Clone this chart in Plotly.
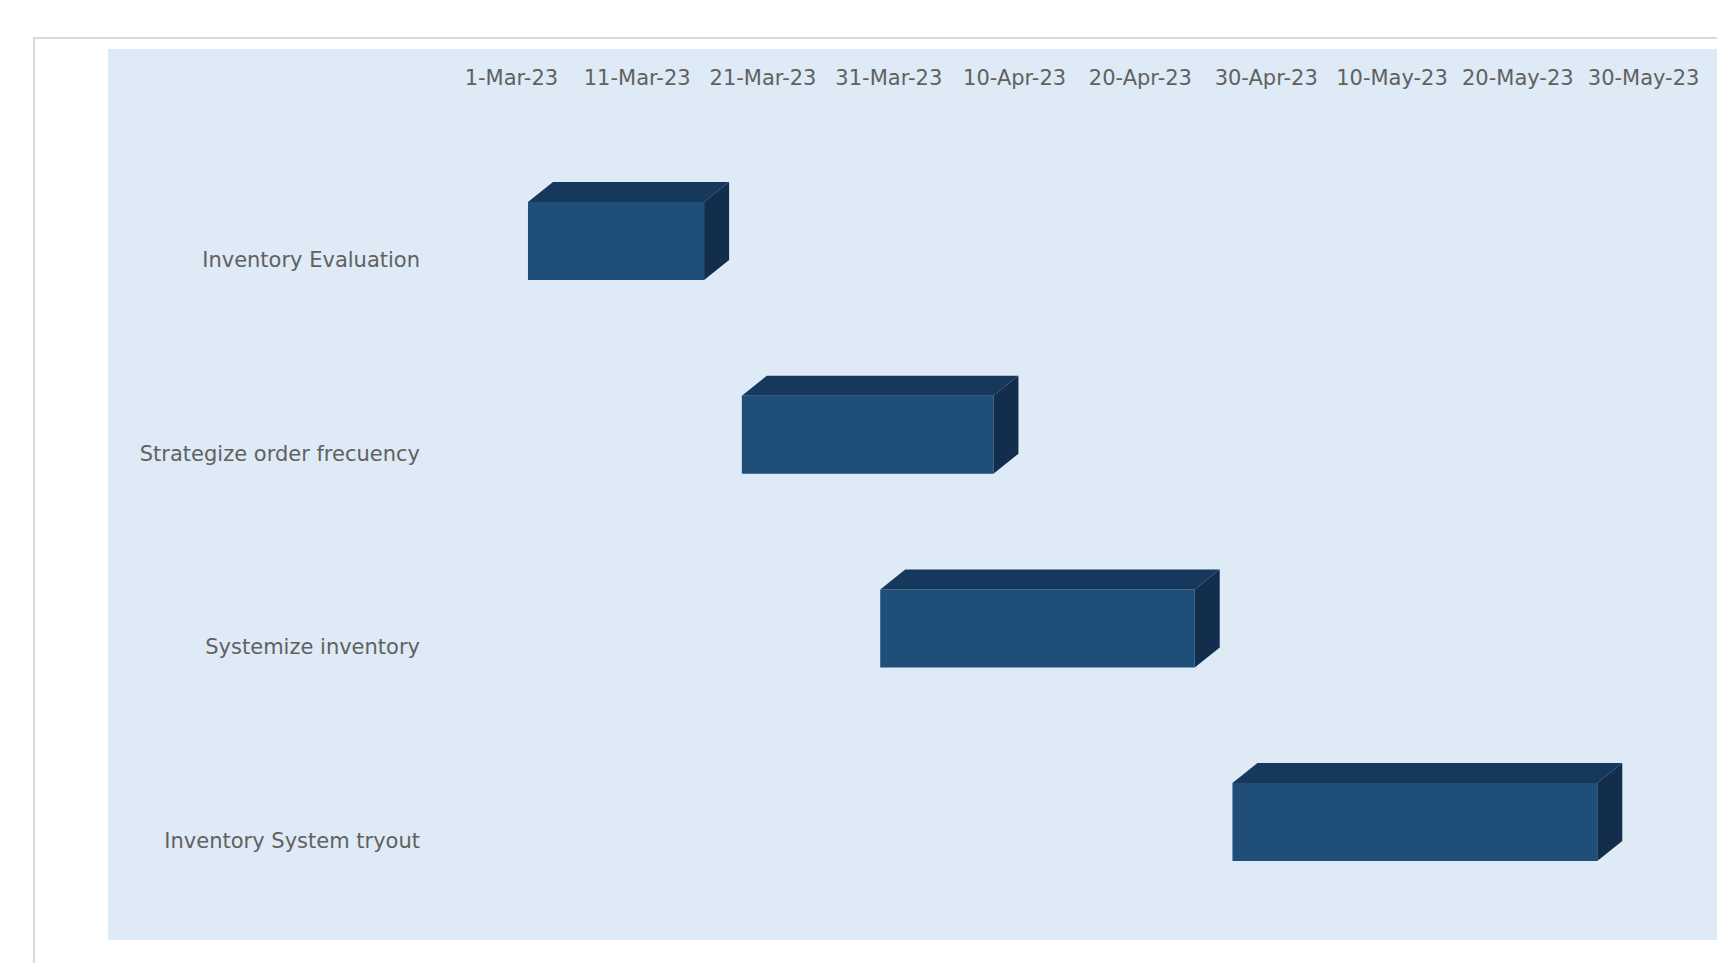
import plotly.graph_objects as go
import pandas as pd

# ---------------- data ----------------
tasks = ["Inventory Evaluation", "Strategize order frecuency", "Systemize inventory", "Inventory System tryout"]
start_dates = ["2023-03-02", "2023-03-19", "2023-03-30", "2023-04-27"]
durations_days = [14, 20, 25, 29]
tick_dates = ["2023-03-01", "2023-03-11", "2023-03-21", "2023-03-31", "2023-04-10",
              "2023-04-20", "2023-04-30", "2023-05-10", "2023-05-20", "2023-05-30"]
tick_labels = ["1-Mar-23", "11-Mar-23", "21-Mar-23", "31-Mar-23", "10-Apr-23",
               "20-Apr-23", "30-Apr-23", "10-May-23", "20-May-23", "30-May-23"]

# ---------------- geometry / style ----------------
W, H = 1717, 963
FONT = "DejaVu Sans"
TXT = "#616161"
FRONT = "#1F4E79"
TOP = "#17385D"
SIDE = "#122E4C"
BG = "#DEEAF6"

def pxx(p):
    return p / W

def pxy(p):
    return 1 - p / H

day0 = pd.Timestamp(tick_dates[0])
px_day0 = 515.4
px_per_day = 12.58
x_dom_px = (425, 1717)
x_range = [day0 + pd.Timedelta(days=(x_dom_px[0] - px_day0) / px_per_day),
           day0 + pd.Timedelta(days=(x_dom_px[1] - px_day0) / px_per_day)]

y_dom_px = (90, 940)
cat0_px = 259.5
px_per_cat = 193.7
y_range = [(y_dom_px[1] - cat0_px) / px_per_cat, -(cat0_px - y_dom_px[0]) / px_per_cat]

face_c = -18.5 / px_per_cat
face_h = 39.0 / px_per_cat
depth_x = pd.Timedelta(days=25.0 / px_per_day)
depth_y = 20.0 / px_per_cat

ypos = list(range(len(tasks)))

fig = go.Figure()

fig.add_trace(go.Bar(
    orientation="h",
    y=ypos,
    x=[d * 86400000 for d in durations_days],
    base=start_dates,
    width=2 * face_h,
    offset=face_c - face_h,
    marker=dict(color=FRONT, line=dict(width=0)),
    showlegend=False,
    hoverinfo="skip",
))

top_x, top_y, side_x, side_y = [], [], [], []
for i, (s, d) in enumerate(zip(start_dates, durations_days)):
    x0 = pd.Timestamp(s)
    x1 = x0 + pd.Timedelta(days=d)
    yt = i + face_c - face_h
    yb = i + face_c + face_h
    top_x += [x0, x0 + depth_x, x1 + depth_x, x1, x0, None]
    top_y += [yt, yt - depth_y, yt - depth_y, yt, yt, None]
    side_x += [x1, x1 + depth_x, x1 + depth_x, x1, x1, None]
    side_y += [yt, yt - depth_y, yb - depth_y, yb, yt, None]

fig.add_trace(go.Scatter(x=top_x, y=top_y, mode="lines", fill="toself",
                         fillcolor=TOP, line=dict(width=0, color=TOP),
                         showlegend=False, hoverinfo="skip"))
fig.add_trace(go.Scatter(x=side_x, y=side_y, mode="lines", fill="toself",
                         fillcolor=SIDE, line=dict(width=0, color=SIDE),
                         showlegend=False, hoverinfo="skip"))

fig.update_layout(
    width=W, height=H,
    margin=dict(l=0, r=0, t=0, b=0),
    paper_bgcolor="white",
    plot_bgcolor="rgba(0,0,0,0)",
    font=dict(family=FONT, size=21, color=TXT),
    xaxis=dict(
        type="date", side="top", range=x_range,
        domain=[pxx(x_dom_px[0]), pxx(x_dom_px[1])],
        tickvals=tick_dates, ticktext=tick_labels,
        ticklabelshift=-4,
        showgrid=False, zeroline=False, showline=False, ticks="",
        automargin=False, fixedrange=True,
    ),
    yaxis=dict(
        range=y_range,
        domain=[pxy(y_dom_px[1]), pxy(y_dom_px[0])],
        tickvals=ypos, ticktext=tasks,
        ticklabelstandoff=4,
        showgrid=False, zeroline=False, showline=False, ticks="",
        automargin=False, fixedrange=True,
    ),
    shapes=[
        dict(type="rect", xref="paper", yref="paper",
             x0=pxx(34), x1=pxx(1730), y0=pxy(975), y1=pxy(38),
             line=dict(color="#D9D9D9", width=2), fillcolor="white", layer="below"),
        dict(type="rect", xref="paper", yref="paper",
             x0=pxx(108), x1=pxx(1730), y0=pxy(940), y1=pxy(49),
             line=dict(width=0), fillcolor=BG, layer="below"),
    ],
)

fig.write_html("out.html")
